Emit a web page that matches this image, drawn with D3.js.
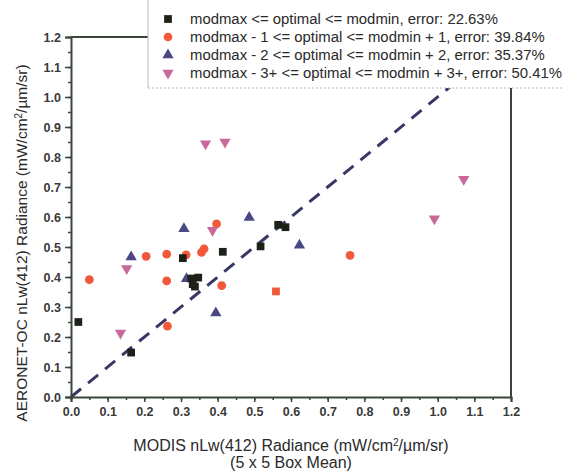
<!DOCTYPE html>
<html><head><meta charset="utf-8">
<script src="https://cdn.jsdelivr.net/npm/d3@7"></script>
<style>body{margin:0;background:#fff}svg{display:block}text{font-family:Arial,"Liberation Sans",sans-serif}</style>
</head><body><svg id="c" width="564" height="472"></svg>
<script>
// ---- data ----
const tickValues = [0,0.1,0.2,0.3,0.4,0.5,0.6,0.7,0.8,0.9,1.0,1.1,1.2];
const seriesNames = [
  "modmax <= optimal <= modmin, error: 22.63%",
  "modmax - 1 <= optimal <= modmin + 1, error: 39.84%",
  "modmax - 2 <= optimal <= modmin + 2, error: 35.37%",
  "modmax - 3+ <= optimal <= modmin + 3+, error: 50.41%"
];
// series 0: black squares [modis, aeronet]
const s0 = [[0.02,0.25],[0.164,0.148],[0.305,0.463],[0.328,0.395],[0.347,0.398],[0.332,0.376],[0.338,0.368],[0.414,0.484],[0.517,0.502],[0.565,0.574],[0.585,0.566]];
// series 1: red circles
const s1 = [[0.05,0.391],[0.205,0.469],[0.261,0.476],[0.261,0.387],[0.263,0.236],[0.314,0.474],[0.356,0.482],[0.363,0.494],[0.397,0.577],[0.411,0.371],[0.761,0.472]];
const s1Square = [[0.559,0.352]];
// series 2: blue up-triangles
const s2 = [[0.164,0.467],[0.308,0.561],[0.486,0.598],[0.395,0.28],[0.623,0.506],[0.315,0.394]];
// series 3: pink down-triangles
const s3 = [[0.152,0.428],[0.135,0.213],[0.367,0.844],[0.42,0.85],[0.386,0.556],[0.991,0.594],[1.071,0.726]];
const colors = ["#1d2219","#f2583a","#4a4884","#c9689b"];

// ---- layout ----
const svg = d3.select("#c");
const x = d3.scaleLinear().domain([0,1.2]).range([71,511]);
const y = d3.scaleLinear().domain([0,1.2]).range([397,37]);
const axisCol = "#3b463a";
const minor = d3.range(0,1.2001,0.05);

// dashed 1:1 line
svg.append("line").attr("x1",x(0)).attr("y1",y(0)).attr("x2",x(1.2)).attr("y2",y(1.2))
  .attr("stroke","#383866").attr("stroke-width",3).attr("stroke-dasharray","13,9");

// axes
const gx = svg.append("g").attr("transform",`translate(0,${y(0)})`)
  .call(d3.axisBottom(x).tickValues(tickValues).tickFormat(d3.format(".1f")).tickSize(5).tickPadding(5));
const gy = svg.append("g").attr("transform",`translate(${x(0)},0)`)
  .call(d3.axisLeft(y).tickValues(tickValues).tickFormat(d3.format(".1f")).tickSize(6).tickPadding(4));
svg.append("g").attr("transform",`translate(0,${y(0)})`)
  .call(d3.axisBottom(x).tickValues(minor).tickFormat("").tickSize(3)).select(".domain").remove();
svg.append("g").attr("transform",`translate(${x(0)},0)`)
  .call(d3.axisLeft(y).tickValues(minor).tickFormat("").tickSize(3)).select(".domain").remove();
[gx,gy].forEach(g=>{
  g.select(".domain").attr("stroke",axisCol).attr("stroke-width",2);
  g.selectAll(".tick text").attr("fill","#3a3a3a").attr("font-size",12.5).attr("font-weight","bold");
});
svg.selectAll("g .tick line").attr("stroke",axisCol).attr("stroke-width",1.5);
// frame: top and right
svg.append("line").attr("x1",x(0)).attr("x2",x(1.2)).attr("y1",y(1.2)).attr("y2",y(1.2)).attr("stroke",axisCol).attr("stroke-width",2);
svg.append("line").attr("x1",x(1.2)).attr("x2",x(1.2)).attr("y1",y(1.2)).attr("y2",y(0)).attr("stroke",axisCol).attr("stroke-width",2);

// points
const sq = d3.symbol().type(d3.symbolSquare).size(60);
const ci = d3.symbol().type(d3.symbolCircle).size(60);
const tri = d3.symbol().type(d3.symbolTriangle).size(55);
function draw(data, sym, col, rot){
  svg.append("g").selectAll("path").data(data).join("path")
    .attr("d",sym).attr("fill",col)
    .attr("transform",d=>`translate(${x(d[0])},${y(d[1])})${rot?" rotate(180)":""}`);
}
draw(s1, ci, colors[1]);
draw(s1Square, sq, colors[1]);
draw(s3, tri, colors[3], true);
draw(s2, tri, colors[2]);
draw(s0, sq, colors[0]);

// legend
svg.append("rect").attr("x",148).attr("y",0).attr("width",416).attr("height",88).attr("fill","#fff");
svg.append("line").attr("x1",148).attr("x2",148).attr("y1",0).attr("y2",88).attr("stroke","#bbb").attr("stroke-width",1);
svg.append("line").attr("x1",148).attr("x2",564).attr("y1",88).attr("y2",88).attr("stroke","#bbb").attr("stroke-width",1).attr("stroke-dasharray","2,2");
const syms = [sq,ci,tri,tri];
seriesNames.forEach((n,i)=>{
  const yy = 19 + i*18;
  svg.append("path").attr("d",syms[i]).attr("fill",colors[i])
    .attr("transform",`translate(168,${yy})${i===3?" rotate(180)":""}`);
  svg.append("text").attr("x",190).attr("y",yy+5).attr("font-size",14.9).attr("fill","#2a2a2a").text(n);
});

// axis titles
const xt = svg.append("text").attr("x",291).attr("y",451).attr("text-anchor","middle").attr("font-size",16).attr("fill","#2a2a2a");
xt.append("tspan").text("MODIS nLw(412) Radiance (mW/cm");
xt.append("tspan").attr("baseline-shift","super").attr("font-size",10).text("2");
xt.append("tspan").text("/µm/sr)");
svg.append("text").attr("x",291).attr("y",468).attr("text-anchor","middle").attr("font-size",16).attr("fill","#2a2a2a").text("(5 x 5 Box Mean)");
const yt = svg.append("text").attr("transform","translate(27,243) rotate(-90)").attr("text-anchor","middle").attr("font-size",15.5).attr("fill","#2a2a2a");
yt.append("tspan").text("AERONET-OC nLw(412) Radiance (mW/cm");
yt.append("tspan").attr("baseline-shift","super").attr("font-size",10).text("2");
yt.append("tspan").text("/µm/sr)");
</script></body></html>
